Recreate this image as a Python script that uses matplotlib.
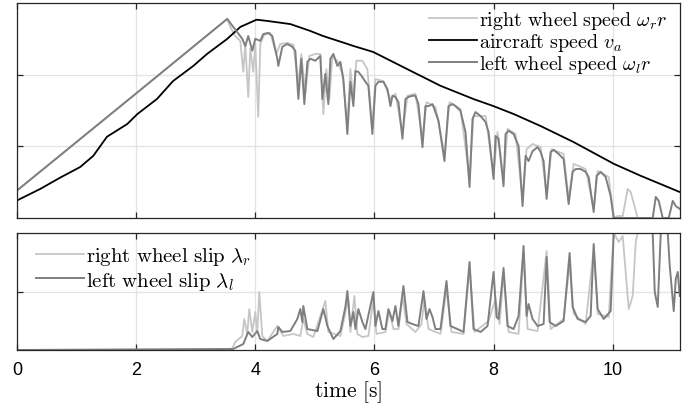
import matplotlib
matplotlib.use("Agg")
import matplotlib.pyplot as plt

plt.rcParams['mathtext.fontset'] = 'cm'
plt.rcParams['font.family'] = ['Liberation Sans', 'DejaVu Sans']

# ---- aircraft speed (black) ----
t_air = [0.0, 0.39, 0.72, 1.06, 1.28, 1.51, 1.85, 2.02, 2.35, 2.62, 2.96, 3.19, 3.53, 3.75,
         4.02, 4.20, 4.59, 4.92, 5.14, 5.55, 5.65, 5.98, 6.55, 7.11, 7.66, 8.00, 8.34, 8.79,
         9.34, 10.02, 10.47, 11.13]
v_air = [4.4, 7.3, 10.1, 12.8, 15.6, 20.4, 23.6, 26.1, 29.9, 34.4, 38.2, 41.2, 45.0, 48.0,
         49.8, 49.5, 48.7, 47.0, 45.7, 43.7, 43.2, 41.7, 37.4, 33.2, 29.9, 28.1, 26.1, 23.1,
         19.1, 13.6, 10.6, 6.5]

# ---- left wheel speed (dark gray) ----
t_left = [0.0, 2.017, 3.529, 3.630, 3.697, 3.782, 3.832, 3.882, 3.950, 4.000, 4.084, 4.134,
          4.218, 4.286, 4.370, 4.387, 4.454, 4.538, 4.622, 4.672, 4.723, 4.773, 4.824, 4.874,
          4.924, 5.008, 5.092, 5.126, 5.176, 5.227, 5.261, 5.311, 5.378, 5.429, 5.479, 5.546,
          5.597, 5.647, 5.681, 5.731, 5.798, 5.849, 5.899, 5.966, 6.017, 6.067, 6.151, 6.218,
          6.269, 6.303, 6.353, 6.403, 6.471, 6.521, 6.571, 6.639, 6.689, 6.739, 6.807, 6.857,
          6.908, 6.975, 7.025, 7.076, 7.176, 7.244, 7.311, 7.361, 7.445, 7.529, 7.597, 7.647,
          7.697, 7.782, 7.866, 7.916, 8.000, 8.034, 8.084, 8.168, 8.202, 8.252, 8.336, 8.420,
          8.487, 8.538, 8.588, 8.655, 8.739, 8.790, 8.840, 8.891, 8.958, 9.008, 9.092, 9.176,
          9.261, 9.328, 9.378, 9.462, 9.546, 9.597, 9.681, 9.731, 9.798, 9.882, 9.966, 10.017,
          10.672, 10.723, 10.773, 10.840, 10.941, 11.008, 11.059, 11.126]
v_left = [6.9, 31.5, 50.0, 48.0, 46.7, 45.0, 43.2, 45.7, 42.0, 45.0, 44.5, 46.2,
          46.5, 45.7, 40.0, 38.2, 43.0, 43.7, 43.0, 42.0, 29.9, 40.0, 28.6, 39.2,
          40.0, 39.5, 40.7, 29.9, 36.2, 28.6, 40.0, 41.2, 38.2, 39.2, 34.9, 21.1,
          34.2, 28.1, 36.9, 36.7, 35.4, 34.2, 33.2, 21.1, 33.2, 34.2, 34.2, 32.4,
          28.1, 30.7, 30.4, 29.1, 19.9, 29.9, 30.4, 30.7, 30.7, 28.6, 17.8, 28.1,
          28.1, 28.6, 26.6, 24.4, 14.3, 28.1, 28.6, 28.1, 26.9, 21.6, 7.8, 24.9,
          26.6, 25.6, 24.1, 21.6, 9.8, 20.6, 19.9, 8.0, 21.1, 21.9, 21.1, 18.1,
          3.0, 15.6, 14.3, 16.8, 17.8, 16.6, 14.3, 4.8, 16.6, 17.1, 16.1, 14.8,
          3.5, 11.6, 12.3, 12.3, 11.6, 10.3, 1.5, 10.6, 11.6, 10.3, 5.5, 0.0,
          0.0, 5.3, 4.3, 0.0, 0.0, 4.3, 3.0, 2.3]

# ---- right wheel speed (light gray) ----
t_right = [0.0, 2.017, 3.529, 3.580, 3.664, 3.748, 3.798, 3.832, 3.882, 3.916, 3.966, 4.000,
           4.050, 4.084, 4.151, 4.252, 4.353, 4.420, 4.538, 4.639, 4.723, 4.773, 4.840, 4.908,
           5.008, 5.092, 5.143, 5.193, 5.244, 5.294, 5.378, 5.462, 5.546, 5.597, 5.647, 5.697,
           5.798, 5.882, 5.966, 6.017, 6.151, 6.269, 6.353, 6.471, 6.555, 6.689, 6.807, 6.874,
           7.025, 7.176, 7.261, 7.445, 7.597, 7.664, 7.866, 8.000, 8.067, 8.168, 8.235, 8.370,
           8.487, 8.555, 8.655, 8.790, 8.891, 8.975, 9.176, 9.261, 9.345, 9.546, 9.681, 9.748,
           9.933, 10.017, 10.084, 10.168, 10.252, 10.303, 10.420, 11.126]
v_right = [6.9, 31.5, 50.0, 48.0, 45.7, 44.5, 36.7, 43.7, 30.4, 42.5, 36.7, 43.7,
           25.4, 43.7, 46.0, 46.5, 41.2, 43.7, 44.0, 43.5, 33.7, 41.2, 31.2, 40.7,
           41.2, 41.2, 26.1, 37.4, 29.9, 40.5, 39.5, 36.2, 23.6, 37.4, 29.9, 39.5,
           39.5, 37.4, 22.4, 34.9, 34.4, 29.9, 31.2, 21.1, 30.7, 31.2, 19.9, 29.1,
           27.9, 16.1, 29.1, 27.4, 9.8, 25.6, 25.6, 11.1, 21.6, 9.8, 22.4, 21.1,
           4.8, 17.3, 18.6, 17.8, 6.0, 17.3, 16.1, 4.8, 13.6, 12.3, 2.3, 11.8,
           10.3, 0.0, 0.5, 0.5, 7.3, 6.5, 0.0, 0.0]

# ---- left wheel slip ----
t_slip_l = [0.0, 3.630, 3.798, 3.882, 3.950, 4.034, 4.084, 4.202, 4.370, 4.387, 4.454, 4.588,
            4.706, 4.756, 4.790, 4.807, 4.874, 5.042, 5.143, 5.210, 5.311, 5.429, 5.513, 5.546,
            5.597, 5.647, 5.681, 5.731, 5.798, 5.849, 5.983, 6.017, 6.067, 6.134, 6.185, 6.235,
            6.303, 6.353, 6.403, 6.487, 6.555, 6.639, 6.739, 6.824, 6.874, 6.924, 6.975, 7.025,
            7.109, 7.210, 7.277, 7.395, 7.496, 7.597, 7.664, 7.782, 7.899, 8.000, 8.050, 8.084,
            8.168, 8.235, 8.336, 8.420, 8.504, 8.555, 8.588, 8.655, 8.739, 8.840, 8.891, 8.941,
            9.042, 9.176, 9.277, 9.328, 9.412, 9.546, 9.630, 9.681, 9.748, 9.849, 9.966, 10.017,
            10.672, 10.706, 10.756, 10.807, 10.924, 10.958, 11.025, 11.059, 11.092, 11.126]
s_left = [0.0, 0.009, 0.051, 0.154, 0.111, 0.162, 0.094, 0.077, 0.137, 0.197, 0.154, 0.162,
          0.265, 0.350, 0.239, 0.376, 0.179, 0.162, 0.350, 0.205, 0.094, 0.162, 0.368, 0.504,
          0.205, 0.325, 0.179, 0.350, 0.239, 0.179, 0.496, 0.205, 0.333, 0.179, 0.179, 0.350,
          0.248, 0.376, 0.205, 0.547, 0.239, 0.222, 0.205, 0.504, 0.265, 0.350, 0.282, 0.179,
          0.179, 0.590, 0.205, 0.179, 0.154, 0.752, 0.179, 0.154, 0.205, 0.667, 0.282, 0.265,
          0.701, 0.205, 0.179, 0.291, 0.889, 0.291, 0.393, 0.265, 0.205, 0.222, 0.795, 0.239,
          0.205, 0.248, 0.829, 0.368, 0.265, 0.239, 0.291, 0.906, 0.350, 0.265, 0.333, 1.0,
          1.0, 0.496, 0.368, 1.0, 1.0, 0.718, 0.333, 0.607, 0.667, 0.462]

# ---- right wheel slip ----
t_slip_r = [0.0, 3.600, 3.664, 3.782, 3.815, 3.866, 3.899, 3.950, 4.000, 4.034, 4.067, 4.118,
            4.202, 4.370, 4.471, 4.639, 4.756, 4.807, 4.874, 4.975, 5.176, 5.227, 5.429, 5.563,
            5.597, 5.664, 5.714, 5.798, 5.899, 5.983, 6.034, 6.185, 6.252, 6.319, 6.403, 6.471,
            6.538, 6.689, 6.790, 6.840, 6.908, 7.109, 7.210, 7.294, 7.496, 7.597, 7.681, 7.916,
            8.034, 8.101, 8.168, 8.252, 8.420, 8.504, 8.571, 8.739, 8.891, 8.958, 9.176, 9.277,
            9.345, 9.546, 9.681, 9.748, 9.933, 10.017, 10.101, 10.168, 10.218, 10.269, 10.336,
            10.387, 10.420, 11.126]
s_right = [0.0, 0.0, 0.068, 0.120, 0.265, 0.137, 0.350, 0.154, 0.325, 0.154, 0.496, 0.120,
           0.077, 0.205, 0.120, 0.137, 0.120, 0.265, 0.137, 0.111, 0.419, 0.154, 0.120, 0.436,
           0.154, 0.462, 0.137, 0.111, 0.120, 0.436, 0.137, 0.154, 0.333, 0.179, 0.179, 0.462,
           0.222, 0.154, 0.222, 0.436, 0.179, 0.137, 0.521, 0.154, 0.137, 0.709, 0.154, 0.248,
           0.436, 0.222, 0.650, 0.154, 0.137, 0.821, 0.179, 0.162, 0.846, 0.179, 0.265, 0.735,
           0.308, 0.222, 0.863, 0.308, 0.282, 1.0, 0.923, 0.974, 0.667, 0.350, 0.462,
           0.923, 1.0, 1.0]

x_ticks = [0, 2, 4, 6, 8, 10]
x_max = 11.13

c_light = '#c6c6c6'
c_dark = '#7f7f7f'
c_black = '#000000'
grid_c = '#e3e3e3'
spine_c = '#262626'

fig = plt.figure(figsize=(6.91, 4.10), dpi=100)
ax1 = fig.add_axes([17/691, 1-219/410, (680-17)/691, (219-4)/410])
ax2 = fig.add_axes([17/691, 1-351/410, (680-17)/691, (351-234)/410])

ax1.plot(t_right, v_right, color=c_light, lw=1.3,
         label=r'$\mathrm{right\ wheel\ speed}\ \omega_r r$')
ax1.plot(t_air, v_air, color=c_black, lw=1.3,
         label=r'$\mathrm{aircraft\ speed}\ v_a$')
ax1.plot(t_left, v_left, color=c_dark, lw=1.4,
         label=r'$\mathrm{left\ wheel\ speed}\ \omega_l r$')
ax1.set_xlim(0, x_max)
ax1.set_ylim(0, 54)
ax1.set_yticks([18, 36])
ax1.set_xticks(x_ticks)
ax1.tick_params(labelleft=False, labelbottom=False)

ax2.plot(t_slip_r, s_right, color=c_light, lw=1.3,
         label=r'$\mathrm{right\ wheel\ slip}\ \lambda_r$')
ax2.plot(t_slip_l, s_left, color=c_dark, lw=1.4,
         label=r'$\mathrm{left\ wheel\ slip}\ \lambda_l$')
ax2.set_xlim(0, x_max)
ax2.set_ylim(0, 1)
ax2.set_yticks([0.5])
ax2.set_xticks(x_ticks)
ax2.tick_params(labelleft=False)
ax2.set_xlabel(r'$\mathrm{time\ [s]}$', fontsize=15.5, labelpad=0)

for ax in (ax1, ax2):
    ax.grid(True, color=grid_c, lw=0.9)
    ax.set_axisbelow(True)
    for sp in ax.spines.values():
        sp.set_color(spine_c)
        sp.set_linewidth(0.9)
    ax.tick_params(direction='in', length=4, width=0.9, color=spine_c,
                   top=True, right=True, labelsize=13, pad=8)

ax1.legend(loc='upper right', frameon=False, fontsize=14.5, handlelength=2.4,
           handletextpad=0.1, labelspacing=0.0, borderaxespad=0.2,
           bbox_to_anchor=(1.0, 1.03))
ax2.legend(loc='upper left', frameon=False, fontsize=15, handlelength=2.3,
           handletextpad=0.1, labelspacing=0.1, borderaxespad=0.2,
           bbox_to_anchor=(0.01, 1.0))

fig.savefig('out.png', dpi=100)
